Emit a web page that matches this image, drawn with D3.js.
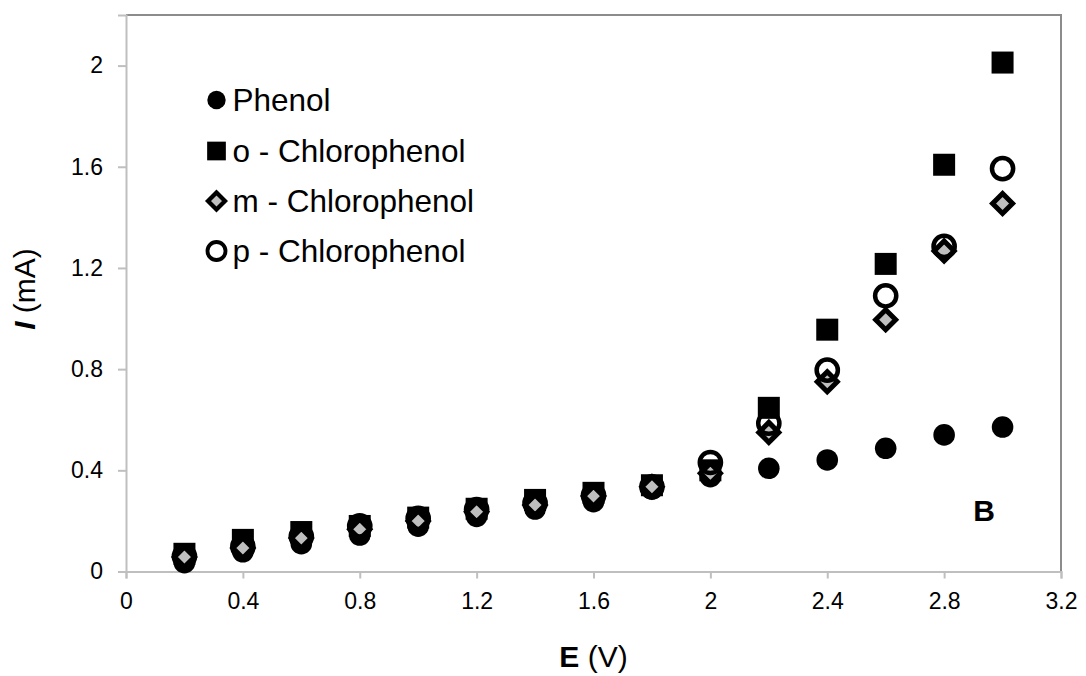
<!DOCTYPE html>
<html>
<head>
<meta charset="utf-8">
<script src="https://cdn.jsdelivr.net/npm/d3@7"></script>
<style>
  html, body { margin: 0; padding: 0; background: #fff; }
  svg { display: block; font-family: "Liberation Sans", Arial, sans-serif; }
</style>
</head>
<body>
<svg id="chart" width="1086" height="676"></svg>
<script>
// ---- data ----
const potentials = [0.2, 0.4, 0.6, 0.8, 1.0, 1.2, 1.4, 1.6, 1.8, 2.0, 2.2, 2.4, 2.6, 2.8, 3.0];
const phenol      = [0.035, 0.078, 0.11, 0.144, 0.179, 0.218, 0.247, 0.276, 0.326, 0.375, 0.408, 0.441, 0.487, 0.54, 0.571];
const oChloro     = [0.07, 0.125, 0.156, 0.18, 0.213, 0.248, 0.283, 0.311, 0.341, 0.40, 0.647, 0.956, 1.216, 1.608, 2.012];
const mChloro     = [0.057, 0.093, 0.132, 0.167, 0.20, 0.236, 0.263, 0.298, 0.335, 0.388, 0.55, 0.75, 0.995, 1.267, 1.455];
const pChloro     = [0.06, 0.098, 0.138, 0.18, 0.21, 0.245, 0.27, 0.30, 0.335, 0.431, 0.586, 0.796, 1.09, 1.285, 1.593];
const seriesNames = ["Phenol", "o - Chlorophenol", "m - Chlorophenol", "p - Chlorophenol"];
const xTicks = [0, 0.4, 0.8, 1.2, 1.6, 2.0, 2.4, 2.8, 3.2];
const yTicks = [0, 0.4, 0.8, 1.2, 1.6, 2.0];
const xDomain = [0, 3.2];
const yDomain = [0, 2.2];

const series = [
  { name: seriesNames[0], values: phenol,  shape: "circleFilled" },
  { name: seriesNames[1], values: oChloro, shape: "square" },
  { name: seriesNames[2], values: mChloro, shape: "diamond" },
  { name: seriesNames[3], values: pChloro, shape: "circleOpen" }
];

// ---- layout ----
const plotL = 126, plotR = 1061, plotT = 15, plotB = 571.5;
const svg = d3.select("#chart");
svg.append("rect").attr("width", 1086).attr("height", 676).attr("fill", "#fff");

const x = d3.scaleLinear().domain(xDomain).range([plotL, plotR]);
const y = d3.scaleLinear().domain(yDomain).range([plotB, plotT]);

// frame (top/right)
svg.append("path")
  .attr("d", `M${plotL},${plotT}H${plotR}V${plotB}`)
  .attr("fill", "none").attr("stroke", "#8c8c8c").attr("stroke-width", 2);

const fmt = d => (d === 0 ? "0" : String(+d.toFixed(1)));

// x axis
const gx = svg.append("g").attr("transform", `translate(0,${plotB})`)
  .call(d3.axisBottom(x).tickValues(xTicks).tickSize(7).tickPadding(14).tickFormat(fmt));
// y axis
const gy = svg.append("g").attr("transform", `translate(${plotL},0)`)
  .call(d3.axisLeft(y).tickValues(yTicks).tickSize(8).tickPadding(15).tickFormat(fmt));

[gx, gy].forEach(g => {
  g.select(".domain").attr("stroke", "#bfbfbf").attr("stroke-width", 2);
  g.selectAll(".tick line").attr("stroke", "#bfbfbf").attr("stroke-width", 2);
  g.selectAll(".tick text").attr("fill", "#000")
    .style("font-family", "'Liberation Sans', Arial, sans-serif").style("font-size", "23px");
});

// ---- markers ----
function drawMarker(g, shape, scale) {
  const s = scale || 1;
  if (shape === "circleFilled") {
    g.append("circle").attr("r", 10.8 * s).attr("fill", "#000");
  } else if (shape === "square") {
    const h = 11 * s;
    g.append("rect").attr("x", -h).attr("y", -h).attr("width", 2 * h).attr("height", 2 * h).attr("fill", "#000");
  } else if (shape === "diamond") {
    const h = 10 * s;
    g.append("path").attr("d", `M0,${-h}L${h},0L0,${h}L${-h},0Z`)
      .attr("fill", "#bfbfbf").attr("stroke", "#000").attr("stroke-width", 5 * s).attr("stroke-linejoin", "miter");
  } else if (shape === "circleOpen") {
    g.append("circle").attr("r", 10.6 * s).attr("fill", "none")
      .attr("stroke", "#000").attr("stroke-width", 4.5 * s);
  }
}

series.forEach(sr => {
  const gs = svg.append("g").attr("class", "series");
  sr.values.forEach((v, i) => {
    const g = gs.append("g").attr("transform", `translate(${x(potentials[i])},${y(v)})`);
    drawMarker(g, sr.shape, 1);
  });
});

// ---- legend ----
const legendRows = [100, 151, 201, 251];
series.forEach((sr, i) => {
  const g = svg.append("g").attr("transform", `translate(216.5,${legendRows[i]})`);
  drawMarker(g, sr.shape, 0.85);
  g.append("text").attr("x", 16).attr("y", 11)
    .attr("font-size", "31.5px").attr("fill", "#000").text(sr.name);
});

// ---- axis titles ----
const xt = svg.append("text").attr("x", (plotL + plotR) / 2).attr("y", 667)
  .attr("text-anchor", "middle").attr("font-size", "30px").attr("fill", "#000");
xt.append("tspan").attr("font-weight", "bold").text("E");
xt.append("tspan").text(" (V)");

const yt = svg.append("text")
  .attr("transform", `translate(35,289) rotate(-90)`)
  .attr("text-anchor", "middle").attr("font-size", "30px").attr("fill", "#000");
yt.append("tspan").attr("font-weight", "bold").attr("font-style", "italic").text("I");
yt.append("tspan").text(" (mA)");

// panel letter
svg.append("text").attr("x", 984).attr("y", 521).attr("text-anchor", "middle")
  .attr("font-size", "30px").attr("font-weight", "bold").attr("fill", "#000").text("B");
</script>
</body>
</html>
